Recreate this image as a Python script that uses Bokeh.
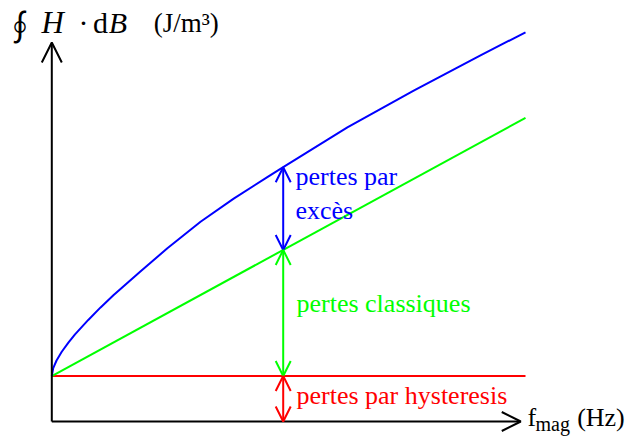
from bokeh.plotting import figure
from bokeh.models import Range1d, Arrow, OpenHead, Label
from bokeh.embed import file_html
from bokeh.resources import INLINE
import numpy as np

# ---- data (arbitrary units) ----
freq = [0, 0.3, 1.0, 2.1, 3.5, 4.9, 7.7, 10.3, 13.0, 18.7, 24.4, 31.4, 38.4,
        45.5, 48.6, 62.4, 76.4, 90.5, 100]
w_total = [12.0, 14.1, 16.1, 18.4, 20.8, 23.0, 26.8, 30.1, 33.3, 39.6, 45.7,
           52.7, 58.8, 64.5, 66.9, 77.6, 87.3, 96.6, 102.7]
freq_lin = [0, 100]
w_hyst = [12.0, 12.0]
w_hyst_class = [12.0, 80.1]
arrow_freq = 48.85
axis_y_max = 100
axis_x_max = 99

labels_excess = ["pertes par", "excès"]
label_classic = "pertes classiques"
label_hyst = "pertes par hysteresis"

BLUE = "#0000ff"
GREEN = "#00ff00"
RED = "#ff0000"
FONT = "Liberation Serif"

# ---- layout: map data to pixels ----
W, H = 626, 439
ox, oy = 51.3, 421.0        # origin position in figure pixels (from top-left)
sx, sy = 4.737, 3.79        # pixels per unit
x0 = -ox / sx
y1 = oy / sy
p = figure(width=W, height=H, x_range=Range1d(x0, x0 + W / sx),
           y_range=Range1d(y1 - H / sy, y1), output_backend="svg",
           toolbar_location=None, min_border=0, x_axis_type=None,
           y_axis_type=None, background_fill_color="white",
           border_fill_color="white")
p.grid.visible = False
p.outline_line_color = None

# curves
p.line(freq_lin, w_hyst, line_color=RED, line_width=2)
p.line(freq_lin, w_hyst_class, line_color=GREEN, line_width=2)
p.line(freq, w_total, line_color=BLUE, line_width=2, line_join="round")

# axes with arrows
p.add_layout(Arrow(x_start=0, y_start=0, x_end=0, y_end=axis_y_max,
                   line_color="black", line_width=2,
                   end=OpenHead(size=20, line_width=2, line_color="black")))
p.add_layout(Arrow(x_start=0, y_start=0, x_end=axis_x_max, y_end=0,
                   line_color="black", line_width=2,
                   end=OpenHead(size=19, line_width=2, line_color="black")))

# double arrows
top_total = float(np.interp(arrow_freq, freq, w_total))
top_class = float(np.interp(arrow_freq, freq_lin, w_hyst_class))
top_hyst = float(np.interp(arrow_freq, freq_lin, w_hyst))
for lo, hi, col in [(top_class, top_total, BLUE), (top_hyst, top_class, GREEN),
                    (0, top_hyst, RED)]:
    p.add_layout(Arrow(x_start=arrow_freq, y_start=lo, x_end=arrow_freq, y_end=hi,
                       line_color=col, line_width=2,
                       start=OpenHead(size=15, line_width=2, line_color=col),
                       end=OpenHead(size=15, line_width=2, line_color=col)))

def lab(text, x, y, col="black", size=26, xoff=0, yoff=None, font=FONT,
        style="normal", align="left"):
    p.add_layout(Label(x=x, y=y, text=text, x_offset=xoff,
                       y_offset=round(0.38 * size) if yoff is None else yoff,
                       text_color=col, text_font=font,
                       text_font_size=f"{size}px", text_font_style=style,
                       text_align=align, text_baseline="alphabetic"))

lab(labels_excess[0], arrow_freq, 62.0, BLUE, xoff=12.3)
lab(labels_excess[1], arrow_freq, 53.0, BLUE, xoff=12.3)
lab(label_classic, arrow_freq, 28.5, GREEN, xoff=13.3)
lab(label_hyst, arrow_freq, 4.2, RED, xoff=13.3)

# y axis title: ∮ H · dB (J/m³)
lab("∮", -6.7, 101.6, size=34, font="Noto Sans CJK JP", align="center", yoff=11)
lab("H", -2.2, 102.4, size=31, style="italic", yoff=11)
lab("·", 6.7, 102.4, size=30, align="center", yoff=11)
lab("d", 8.7, 102.4, size=30, yoff=11)
lab("B", 12.0, 102.4, size=30, style="italic", yoff=11)
lab("(J/m³)", 21.5, 102.4, size=27)

# x axis title: f_mag (Hz)
lab("f", 100.4, -1.58, size=26)
lab("mag", 102.1, -2.9, size=20)
lab("(Hz)", 110.9, -1.58, size=26)

open("out.html", "w").write(file_html(p, INLINE))
